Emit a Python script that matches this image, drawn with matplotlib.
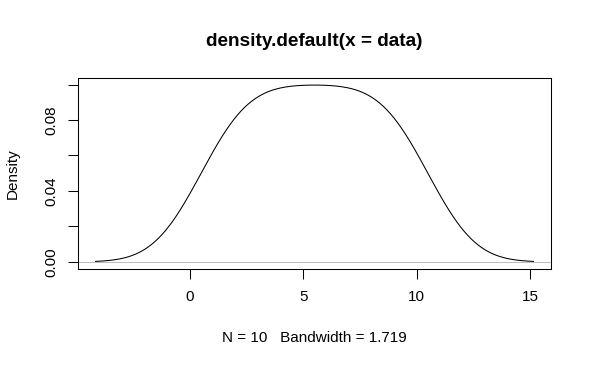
import matplotlib.pyplot as plt
import numpy as np

plt.rcParams['font.family'] = ['Liberation Sans', 'DejaVu Sans']

# sample values behind the density estimate
data = np.array([1, 2, 3, 4, 5, 6, 7, 8, 9, 10], dtype=float)
bandwidth = 1.719
x_ticks = [0, 5, 10, 15]
y_ticks = [0.00, 0.02, 0.04, 0.06, 0.08, 0.10]
y_labels = ['0.00', '', '0.04', '', '0.08', '']

# gaussian kernel density, evaluated like R's density() (cut = 3 * bw, n = 512)
grid = np.linspace(data.min() - 3 * bandwidth, data.max() + 3 * bandwidth, 512)
dens = np.exp(-0.5 * ((grid[:, None] - data[None, :]) / bandwidth) ** 2).sum(axis=1)
dens /= len(data) * bandwidth * np.sqrt(2 * np.pi)

W, H = 591, 367
fig = plt.figure(figsize=(W / 100, H / 100), dpi=100)
ax = fig.add_axes([78 / W, 1 - 269 / H, (551 - 78) / W, (269 - 78) / H])

ax.axhline(0, color='#BEBEBE', linewidth=0.75)
ax.plot(grid, dens, color='black', linewidth=0.75)

xr = grid.max() - grid.min()
ax.set_xlim(grid.min() - 0.04 * xr, grid.max() + 0.04 * xr)
ax.set_ylim(-0.04 * dens.max(), dens.max() * 1.04)

fs = 11
ax.set_xticks(x_ticks)
ax.set_xticklabels([str(v) for v in x_ticks], fontsize=fs)
ax.set_yticks(y_ticks)
ax.set_yticklabels(y_labels, fontsize=fs, rotation=90, va='center')
ax.tick_params(direction='out', length=6.9, width=0.75)
ax.tick_params(axis='x', pad=8)
ax.tick_params(axis='y', pad=7)
for s in ax.spines.values():
    s.set_linewidth(0.75)

fig.text(314 / W, 1 - 41 / H, 'density.default(x = data)', fontsize=13.7,
         fontweight='bold', ha='center', va='center')
fig.text(314 / W, 1 - 338 / H, 'N = 10   Bandwidth = 1.719', fontsize=fs,
         ha='center', va='center')
fig.text(13 / W, 1 - 174 / H, 'Density', fontsize=fs, rotation=90,
         ha='center', va='center')

fig.savefig('out.png', dpi=100)
